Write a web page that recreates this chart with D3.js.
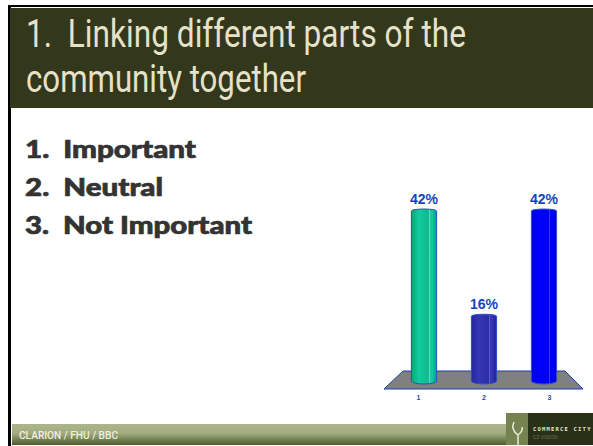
<!DOCTYPE html>
<html>
<head>
<meta charset="utf-8">
<script src="https://cdn.jsdelivr.net/npm/d3@7"></script>
<style>
  html, body { margin: 0; padding: 0; background: #fff; }
  svg { display: block; }
</style>
</head>
<body>
<svg id="slide" width="593" height="446"></svg>
<script>
const titleLines = ["1.  Linking different parts of the", "community together"];
const titleWidths = [440, 280];
const options = ["1.  Important", "2.  Neutral", "3.  Not Important"];
const optionWidths = [171, 138, 227];
const categories = ["1", "2", "3"];
const values = [42, 16, 42];
const barColors = [
    ["#00a77c", "#10cc9c", "#0fb98d", "#5fdcbb"],
    ["#26269c", "#3636b4", "#2c2ca8", "#5a5ac8"],
    ["#0000e0", "#0000ff", "#0000f0", "#3a3aff"]
];

const svg = d3.select("#slide");
const defs = svg.append("defs");

const xScale = d3.scaleBand()
    .domain(categories)
    .range([394, 574])
    .paddingInner(0.58)
    .paddingOuter(0.29);

// the category labels do not sit quite under the bars in the original
const labelScale = d3.scalePoint()
    .domain(categories)
    .range([418, 549]);

const yScale = d3.scaleLinear()
    .domain([0, 42])
    .range([381, 211]);

// Slide frame and title
svg.append("rect").attr("x", 8).attr("y", 5).attr("width", 585).attr("height", 2).attr("fill", "#000");
svg.append("rect").attr("x", 8).attr("y", 5).attr("width", 3).attr("height", 441).attr("fill", "#000");
svg.append("rect").attr("x", 10).attr("y", 8).attr("width", 583).attr("height", 100).attr("fill", "#33371c");

svg.selectAll(".title")
    .data(titleLines)
    .enter().append("text")
    .attr("class", "title")
    .attr("x", 26)
    .attr("y", (d, i) => 47 + i * 45)
    .style("white-space", "pre")
    .attr("font-family", "Roboto")
    .attr("font-weight", 400)
    .attr("font-size", 38)
    .attr("textLength", (d, i) => titleWidths[i])
    .attr("lengthAdjust", "spacingAndGlyphs")
    .attr("fill", "#e6e2c8")
    .text(d => d);

svg.selectAll(".option")
    .data(options)
    .enter().append("text")
    .attr("class", "option")
    .attr("x", 25)
    .attr("y", (d, i) => 158 + i * 38)
    .style("white-space", "pre")
    .attr("font-family", "Lato")
    .attr("font-weight", 900)
    .attr("font-size", 25)
    .attr("textLength", (d, i) => optionWidths[i])
    .attr("lengthAdjust", "spacingAndGlyphs")
    .attr("fill", "#333")
    .attr("stroke", "#333")
    .attr("stroke-width", 0.7)
    .text(d => d);

// Floor
const floor = d3.path();
floor.moveTo(403, 371);
floor.lineTo(565, 371);
floor.lineTo(583, 389);
floor.lineTo(384, 389);
floor.closePath();
svg.append("path")
    .attr("d", floor.toString())
    .attr("fill", "#808080")
    .attr("stroke", "#1c3fa8")
    .attr("stroke-width", 1);

// Cylinders, the stripes come from hard stops in the gradient
barColors.forEach((c, i) => {
    const grad = defs.append("linearGradient").attr("id", "bar" + i);
    [[0, c[0]], [0.3, c[1]], [0.68, c[2]], [0.68, c[3]], [0.72, c[3]], [0.72, c[1]],
     [0.84, c[1]], [0.84, c[3]], [0.87, c[3]], [0.87, c[2]], [1, c[0]]].forEach(s => {
        grad.append("stop").attr("offset", s[0]).attr("stop-color", s[1]);
    });
});

const bars = svg.selectAll(".bar")
    .data(values)
    .enter().append("g")
    .attr("class", "bar");

bars.append("path")
    .attr("d", (d, i) => {
        const x0 = xScale(categories[i]);
        const w = xScale.bandwidth();
        const top = yScale(d);
        const bottom = yScale(0);
        return `M${x0},${top} A${w / 2},2 0 0 1 ${x0 + w},${top} L${x0 + w},${bottom} A${w / 2},3 0 0 1 ${x0},${bottom} Z`;
    })
    .attr("fill", (d, i) => `url(#bar${i})`)
    .attr("stroke", "#2a50c8")
    .attr("stroke-width", 1);

svg.selectAll(".value")
    .data(values)
    .enter().append("text")
    .attr("class", "value")
    .attr("x", (d, i) => xScale(categories[i]) + xScale.bandwidth() / 2)
    .attr("y", d => yScale(d) - 7.5)
    .attr("text-anchor", "middle")
    .attr("font-family", "'Liberation Sans'")
    .attr("font-weight", "bold")
    .attr("font-size", 14)
    .attr("fill", "#1a3fc0")
    .text(d => d + "%");

// Category labels
const xAxis = d3.axisBottom(labelScale).tickSize(0).tickPadding(0);
const axisG = svg.append("g")
    .attr("transform", "translate(0, 395)")
    .call(xAxis);
axisG.select(".domain").remove();
axisG.selectAll("text")
    .attr("font-family", "'Liberation Sans'")
    .attr("font-weight", "bold")
    .attr("font-size", 7)
    .attr("fill", "#2a4aa0");

// Footer band
const footGrad = defs.append("linearGradient").attr("id", "foot").attr("x2", 0).attr("y2", 1);
[[0, "#aeb58c"], [0.45, "#a2ab7e"], [1, "#4d5b2c"]].forEach(s => {
    footGrad.append("stop").attr("offset", s[0]).attr("stop-color", s[1]);
});
svg.append("rect").attr("x", 12).attr("y", 424).attr("width", 496).attr("height", 21).attr("fill", "url(#foot)");
svg.append("text")
    .attr("x", 19)
    .attr("y", 439)
    .attr("font-family", "Roboto")
    .attr("font-weight", 500)
    .attr("font-size", 11)
    .attr("textLength", 99)
    .attr("lengthAdjust", "spacingAndGlyphs")
    .attr("fill", "#eef0e4")
    .text("CLARION / FHU / BBC");

// Logo
svg.append("rect").attr("x", 506).attr("y", 413).attr("width", 22).attr("height", 32).attr("fill", "#76824f");
svg.append("rect").attr("x", 528).attr("y", 413).attr("width", 65).attr("height", 32).attr("fill", "#2a3018");
svg.append("path")
    .attr("d", "M514,422 C511,428 514,432 518,435 L518,445 M518,435 C522,432 523,430 522,427")
    .attr("fill", "none")
    .attr("stroke", "#e8ecd8")
    .attr("stroke-width", 1.5);
svg.append("text").attr("x", 533).attr("y", 431).attr("font-family", "'DejaVu Sans Mono'").attr("font-weight", "bold")
    .attr("font-size", 5.5).attr("letter-spacing", 1.2).attr("fill", "#e0e4d0").text("COMMERCE CITY");
svg.append("text").attr("x", 533).attr("y", 439).attr("font-family", "'Liberation Sans'")
    .attr("font-size", 5).attr("fill", "#6c7650").text("C3 VISION");
</script>
</body>
</html>
